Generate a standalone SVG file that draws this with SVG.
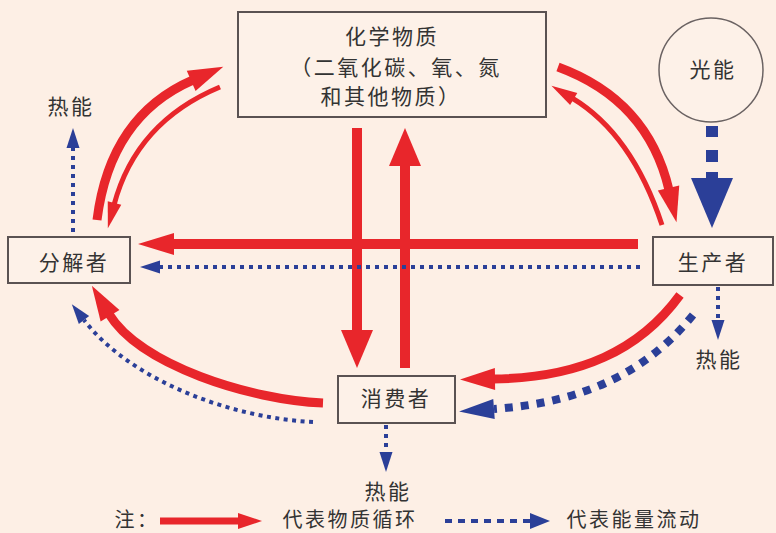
<svg xmlns="http://www.w3.org/2000/svg" width="776" height="533" viewBox="0 0 776 533">
<style>
text{font-family:"Noto Sans CJK SC","Noto Sans CJK JP",sans-serif;font-size:21px;fill:#333;text-anchor:middle;letter-spacing:2.5px}
.lg{font-size:20px}
.box{fill:#fdf1e8;stroke:#5a5252;stroke-width:2}
.r{fill:none;stroke:#e8262b}
.b{fill:none;stroke:#2b3f98}
</style>
<defs>
<marker id="hRed" markerUnits="userSpaceOnUse" overflow="visible" orient="auto" markerWidth="1" markerHeight="1"><path d="M-2,-11 L34,0 L-2,11 z" fill="#e8262b"/></marker>
<marker id="vRed" markerUnits="userSpaceOnUse" overflow="visible" orient="auto" markerWidth="1" markerHeight="1"><path d="M-2,-16 L36,0 L-2,16 z" fill="#e8262b"/></marker>
<marker id="cRed" markerUnits="userSpaceOnUse" overflow="visible" orient="auto" markerWidth="1" markerHeight="1"><path d="M-2,-11 L33,0 L-2,11 z" fill="#e8262b"/></marker>
<marker id="tRed" markerUnits="userSpaceOnUse" overflow="visible" orient="auto" markerWidth="1" markerHeight="1"><path d="M-2,-7 L24,0 L-2,7 z" fill="#e8262b"/></marker>
<marker id="lRed" markerUnits="userSpaceOnUse" overflow="visible" orient="auto" markerWidth="1" markerHeight="1"><path d="M-2,-8 L22,0 L-2,8 z" fill="#e8262b"/></marker>
<marker id="sBlue" markerUnits="userSpaceOnUse" overflow="visible" orient="auto" markerWidth="1" markerHeight="1"><path d="M0,-6.5 L20,0 L0,6.5 z" fill="#2b3f98"/></marker>
<marker id="mBlue" markerUnits="userSpaceOnUse" overflow="visible" orient="auto" markerWidth="1" markerHeight="1"><path d="M0,-10 L35,0 L0,10 z" fill="#2b3f98"/></marker>
<marker id="lBlue" markerUnits="userSpaceOnUse" overflow="visible" orient="auto" markerWidth="1" markerHeight="1"><path d="M0,-8 L20,0 L0,8 z" fill="#2b3f98"/></marker>
</defs>
<rect width="776" height="533" fill="#fdefe5"/>

<g id="connectors">
  <!-- material cycle -->
  <path class="r" stroke-width="10" d="M638,244 L172,244" marker-end="url(#hRed)"/>
  <path class="r" stroke-width="10" d="M357,128 L357,332" marker-end="url(#vRed)"/>
  <path class="r" stroke-width="10" d="M405,368 L405,164" marker-end="url(#vRed)"/>
  <path class="r" stroke-width="9" d="M97,220 Q110,116 193,80" marker-end="url(#cRed)"/>
  <path class="r" stroke-width="5" d="M220,87 Q136,122 114,205" marker-end="url(#tRed)"/>
  <path class="r" stroke-width="9" d="M558,67 Q648,100 669,190" marker-end="url(#cRed)"/>
  <path class="r" stroke-width="5" d="M662,225 Q632,134 572,98" marker-end="url(#tRed)"/>
  <path class="r" stroke-width="9" d="M680,295 C640,350 580,378 493,379" marker-end="url(#cRed)"/>
  <path class="r" stroke-width="9" d="M323,403 C250,400 140,365 109,314" marker-end="url(#cRed)"/>
  <!-- energy flow -->
  <path class="b" stroke-width="4" stroke-dasharray="4 5" d="M640,267 L160,267" marker-end="url(#sBlue)"/>
  <path class="b" stroke-width="8" stroke-dasharray="8 8" d="M693,315 C650,368 590,402 494,409" marker-end="url(#mBlue)"/>
  <path class="b" stroke-width="4" stroke-dasharray="4 4.5" d="M313,422 C230,418 130,380 84,320" marker-end="url(#sBlue)"/>
  <path class="b" stroke-width="4" stroke-dasharray="4 5" d="M73,232 L73,148" marker-end="url(#sBlue)"/>
  <path class="b" stroke-width="4" stroke-dasharray="4 5" d="M718,287 L718,320" marker-end="url(#sBlue)"/>
  <path class="b" stroke-width="4" stroke-dasharray="4 5" d="M386,425 L386,452" marker-end="url(#sBlue)"/>
  <g fill="#2b3f98">
    <rect x="706" y="126" width="12" height="11"/>
    <rect x="706" y="150" width="12" height="12"/>
    <rect x="706" y="172" width="12" height="8"/>
    <polygon points="691,178 733,178 712,228"/>
  </g>
</g>

<g id="chem">
  <rect class="box" x="238" y="12" width="308" height="105"/>
  <text x="392" y="44">化学物质</text>
  <text x="396" y="75">（二氧化碳、氧、氮</text>
  <text x="391" y="104">和其他物质）</text>
</g>
<g id="light">
  <circle cx="711" cy="70" r="52" fill="#fdf1e8" stroke="#6a6262" stroke-width="1.5"/>
  <text x="713" y="77">光能</text>
</g>
<g id="producer">
  <rect class="box" x="653" y="237" width="120" height="48"/>
  <text x="713" y="270">生产者</text>
</g>
<g id="decomposer">
  <rect class="box" x="8" y="237" width="122" height="46"/>
  <text x="74" y="270">分解者</text>
</g>
<g id="consumer">
  <rect class="box" x="338" y="376" width="117" height="47"/>
  <text x="396" y="406">消费者</text>
</g>
<g id="heat">
  <text x="71" y="114">热能</text>
  <text x="719" y="367">热能</text>
  <text x="388" y="499">热能</text>
</g>
<g id="legend">
  <text class="lg" x="137" y="527">注：</text>
  <path class="r" stroke-width="7" d="M160,521 L240,521" marker-end="url(#lRed)"/>
  <text class="lg" x="350" y="527">代表物质循环</text>
  <path class="b" stroke-width="4" stroke-dasharray="7 6" d="M445,521 L530,521" marker-end="url(#lBlue)"/>
  <text class="lg" x="634" y="527">代表能量流动</text>
</g>
</svg>
